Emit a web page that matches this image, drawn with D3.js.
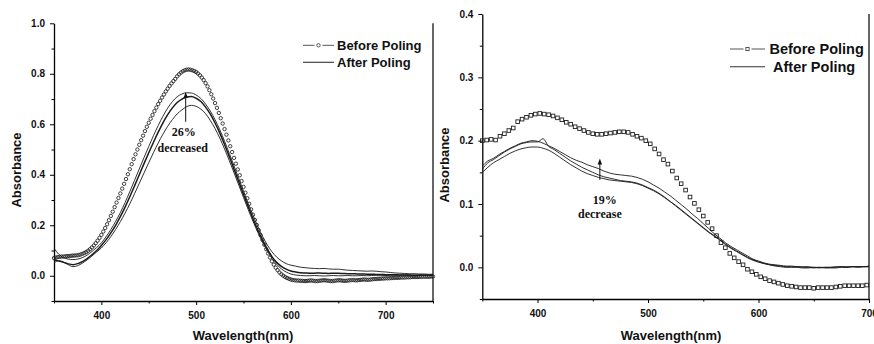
<!DOCTYPE html>
<html>
<head>
<meta charset="utf-8">
<script src="https://cdn.jsdelivr.net/npm/d3@7"></script>
<style>
  body { margin: 0; background: #fff; }
  svg { display: block; }
  .tick text { font-family: "Liberation Sans", Arial, sans-serif; font-weight: bold; font-size: 10px; fill: #111; }
  .axis-title { font-family: "Liberation Sans", Arial, sans-serif; font-weight: bold; font-size: 13px; fill: #111; }
  .note { font-family: "Liberation Serif", "Times New Roman", serif; font-weight: bold; font-size: 12px; fill: #111; }
</style>
</head>
<body>
<svg id="chart" width="874" height="344"></svg>
<script>
// ---- left panel: before poling (circles), 2 nm steps from 350 nm
const leftBeforeStart = 350, leftBeforeStep = 2;
const leftBefore = [
    0.070, 0.072, 0.074, 0.075, 0.076, 0.076, 0.077, 0.078, 0.078, 0.079,
    0.080, 0.080, 0.081, 0.082, 0.084, 0.087, 0.090, 0.094, 0.099, 0.105,
    0.112, 0.120, 0.129, 0.139, 0.150,
    0.162, 0.175, 0.189, 0.204, 0.220, 0.237, 0.254, 0.272, 0.290, 0.308,
    0.326, 0.345, 0.364, 0.383, 0.402, 0.422, 0.442, 0.462, 0.481, 0.500,
    0.519, 0.537, 0.555, 0.573, 0.590,
    0.606, 0.622, 0.637, 0.652, 0.666, 0.680, 0.693, 0.706, 0.718, 0.730,
    0.741, 0.752, 0.762, 0.771, 0.780, 0.790, 0.798, 0.805, 0.810, 0.814,
    0.816, 0.817, 0.816, 0.814, 0.811,
    0.807, 0.801, 0.794, 0.785, 0.775, 0.763, 0.750, 0.735, 0.719, 0.702,
    0.684, 0.665, 0.645, 0.624, 0.603, 0.581, 0.559, 0.536, 0.513, 0.490,
    0.467, 0.444, 0.421, 0.398, 0.375,
    0.352, 0.329, 0.307, 0.285, 0.263, 0.242, 0.221, 0.201, 0.181, 0.161,
    0.142, 0.123, 0.105, 0.088, 0.072, 0.057, 0.044, 0.032, 0.022, 0.013,
    0.006, 0.000, -0.005, -0.009, -0.012,
    -0.015, -0.017, -0.018, -0.019, -0.019, -0.020, -0.020, -0.021, -0.021, -0.020,
    -0.019, -0.019, -0.020, -0.021, -0.021, -0.020, -0.019, -0.018, -0.018, -0.019,
    -0.020, -0.021, -0.021, -0.020, -0.019,
    -0.018, -0.018, -0.019, -0.020, -0.020, -0.019, -0.018, -0.017, -0.017, -0.018,
    -0.018, -0.017, -0.016, -0.015, -0.015, -0.016, -0.016, -0.015, -0.014, -0.013,
    -0.013, -0.012, -0.012, -0.011, -0.011,
    -0.010, -0.010, -0.010, -0.009, -0.009, -0.008, -0.008, -0.008, -0.007, -0.007,
    -0.007, -0.006, -0.006, -0.006, -0.005, -0.005, -0.005, -0.005, -0.004, -0.004,
    -0.004, -0.004, -0.004, -0.004, -0.003, -0.003
];

// ---- left panel: after poling (3 scans), 5 nm steps from 350 nm
const leftAfterStart = 350, leftAfterStep = 5;
const leftAfterA = [
    0.110, 0.085, 0.072, 0.066, 0.064, 0.066, 0.072, 0.082, 0.096, 0.112,
    0.130, 0.155, 0.183, 0.215, 0.250, 0.290, 0.333, 0.378, 0.423, 0.468,
    0.512, 0.555, 0.595, 0.632, 0.664, 0.690, 0.709, 0.720, 0.725, 0.724,
    0.716, 0.702, 0.680, 0.652, 0.618, 0.578, 0.533, 0.485, 0.435, 0.385,
    0.335, 0.286, 0.240, 0.196, 0.157, 0.123, 0.095, 0.074, 0.059, 0.048,
    0.042, 0.038, 0.034, 0.032, 0.030, 0.029, 0.028, 0.029, 0.027, 0.026,
    0.026, 0.024, 0.022, 0.021, 0.020, 0.019, 0.018, 0.019, 0.018, 0.016,
    0.015, 0.013, 0.011, 0.010, 0.009, 0.008, 0.008, 0.007, 0.007, 0.006, 0.006
];
const leftAfterB = [
    0.062, 0.058, 0.053, 0.047, 0.044, 0.048, 0.056, 0.068, 0.083, 0.100,
    0.120, 0.143, 0.170, 0.200, 0.234, 0.272, 0.313, 0.356, 0.400, 0.444,
    0.487, 0.529, 0.569, 0.606, 0.638, 0.665, 0.686, 0.700, 0.708, 0.710,
    0.703, 0.690, 0.668, 0.640, 0.605, 0.565, 0.520, 0.472, 0.422, 0.372,
    0.322, 0.273, 0.226, 0.182, 0.142, 0.106, 0.076, 0.053, 0.037, 0.026,
    0.019, 0.015, 0.012, 0.011, 0.010, 0.010, 0.011, 0.010, 0.009, 0.010,
    0.010, 0.009, 0.008, 0.008, 0.007, 0.007, 0.006, 0.006, 0.005, 0.005,
    0.004, 0.004, 0.004, 0.003, 0.003, 0.003, 0.002, 0.002, 0.002, 0.002, 0.002
];
const leftAfterC = [
    0.050, 0.060, 0.055, 0.044, 0.036, 0.040, 0.050, 0.063, 0.078, 0.094,
    0.110, 0.131, 0.155, 0.183, 0.214, 0.248, 0.285, 0.325, 0.366, 0.407,
    0.448, 0.488, 0.526, 0.561, 0.592, 0.619, 0.641, 0.657, 0.670, 0.675,
    0.671, 0.660, 0.642, 0.615, 0.583, 0.545, 0.502, 0.456, 0.408, 0.359,
    0.310, 0.262, 0.216, 0.173, 0.134, 0.099, 0.069, 0.045, 0.027, 0.015,
    0.007, 0.003, 0.001, 0.000, 0.000, 0.001, 0.000, -0.001, 0.000, 0.001,
    0.000, 0.000, 0.001, 0.000, 0.000, 0.001, 0.000, 0.001, 0.002, 0.002,
    0.001, 0.002, 0.002, 0.002, 0.003, 0.003, 0.002, 0.003, 0.003, 0.002, 0.002
];

// ---- right panel: before poling (squares), 4 nm steps from 350 nm
const rightBeforeStart = 350, rightBeforeStep = 4;
const rightBefore = [
    0.200, 0.201, 0.202, 0.201, 0.207, 0.211, 0.216, 0.220, 0.230, 0.234,
    0.237, 0.240, 0.242, 0.243, 0.242, 0.241, 0.239, 0.236, 0.233, 0.229,
    0.226, 0.222, 0.219, 0.216, 0.213, 0.211, 0.210, 0.210, 0.211, 0.212,
    0.213, 0.214, 0.214, 0.213, 0.210, 0.207, 0.204, 0.200, 0.195, 0.187,
    0.179, 0.170, 0.163, 0.152, 0.141, 0.132, 0.122, 0.111, 0.101, 0.091,
    0.081, 0.071, 0.061, 0.050, 0.039, 0.031, 0.022, 0.015, 0.009, 0.004,
    -0.003, -0.007, -0.011, -0.015, -0.018, -0.021, -0.023, -0.025, -0.027, -0.029,
    -0.030, -0.031, -0.032, -0.032, -0.032, -0.033, -0.032, -0.032, -0.032, -0.032,
    -0.031, -0.030, -0.029, -0.029, -0.029, -0.029, -0.029, -0.028
];

// ---- right panel: after poling (3 scans), 5 nm steps from 350 nm
const rightAfterStart = 350, rightAfterStep = 5;
const rightAfterA = [
    0.160, 0.168, 0.172, 0.178, 0.183, 0.188, 0.192, 0.196, 0.198, 0.200,
    0.199, 0.196, 0.192, 0.188, 0.183, 0.178, 0.173, 0.169, 0.166, 0.162,
    0.159, 0.156, 0.152, 0.149, 0.147, 0.146, 0.145, 0.144, 0.142, 0.139,
    0.135, 0.130, 0.125, 0.119, 0.113, 0.106, 0.099, 0.092, 0.084, 0.077,
    0.069, 0.061, 0.053, 0.046, 0.039, 0.033, 0.028, 0.023, 0.018, 0.013,
    0.010, 0.007, 0.005, 0.004, 0.003, 0.002, 0.002, 0.001, 0.001, 0.001,
    0.000, 0.000, 0.000, 0.000, 0.000, 0.001, 0.001, 0.001, 0.001, 0.001, 0.002
];
const rightAfterB = [
    0.155, 0.165, 0.170, 0.176, 0.182, 0.187, 0.191, 0.195, 0.197, 0.198,
    0.198, 0.203, 0.191, 0.186, 0.180, 0.174, 0.168, 0.163, 0.158, 0.154,
    0.150, 0.146, 0.143, 0.141, 0.139, 0.137, 0.136, 0.135, 0.133, 0.130,
    0.126, 0.122, 0.117, 0.111, 0.104, 0.098, 0.091, 0.084, 0.077, 0.070,
    0.063, 0.056, 0.050, 0.044, 0.037, 0.031, 0.026, 0.021, 0.016, 0.012,
    0.009, 0.006, 0.004, 0.003, 0.002, 0.001, 0.001, 0.001, 0.000, 0.000,
    -0.001, 0.000, -0.001, -0.001, -0.001, 0.000, 0.000, 0.001, 0.001, 0.001, 0.001
];
const rightAfterC = [
    0.150, 0.158, 0.165, 0.170, 0.175, 0.180, 0.184, 0.187, 0.189, 0.190,
    0.190, 0.188, 0.185, 0.180, 0.174, 0.168, 0.162, 0.157, 0.152, 0.148,
    0.145, 0.142, 0.140, 0.138, 0.137, 0.136, 0.135, 0.134, 0.132, 0.129,
    0.125, 0.121, 0.116, 0.110, 0.104, 0.097, 0.090, 0.083, 0.076, 0.069,
    0.062, 0.055, 0.049, 0.043, 0.036, 0.030, 0.025, 0.020, 0.015, 0.011,
    0.008, 0.006, 0.004, 0.002, 0.001, 0.000, 0.000, 0.000, -0.001, -0.001,
    0.000, -0.001, 0.000, 0.000, 0.001, 0.001, 0.000, 0.001, 0.000, 0.001, 0.001
];

// ---- axes and annotations
const leftXTicks = [400, 500, 600, 700];
const leftXMinor = [350, 450, 550, 650, 750];
const leftYTicks = [0.0, 0.2, 0.4, 0.6, 0.8, 1.0];
const leftYMinor = [-0.1, 0.1, 0.3, 0.5, 0.7, 0.9];
const rightXTicks = [400, 500, 600, 700];
const rightXMinor = [350, 450, 550, 650];
const rightYTicks = [0.0, 0.1, 0.2, 0.3, 0.4];
const rightYMinor = [-0.05, 0.05, 0.15, 0.25, 0.35];
const legendLabels = ['Before Poling', 'After Poling'];
const leftNote = { wl: 489, from: 0.61, to: 0.728, lines: ['26%', 'decreased'] };
const rightNote = { wl: 456.4, from: 0.138, to: 0.172, lines: ['19%', 'decrease'] };

const toPoints = (values, start, step) => values.map((v, i) => ({ wl: start + i * step, v }));

const svg = d3.select('#chart');

function drawPanel(p) {
    const x = d3.scaleLinear().domain(p.xDomain).range([p.left, p.right]);
    const y = d3.scaleLinear().domain(p.yDomain).range([p.bottom, p.top]);
    const g = svg.append('g');

    // minor ticks
    g.append('g')
        .attr('transform', `translate(0,${p.bottom})`)
        .call(d3.axisBottom(x).tickValues(p.xMinor).tickSize(2.5).tickFormat(''))
        .call(a => a.select('.domain').remove());
    g.append('g')
        .attr('transform', `translate(${p.left},0)`)
        .call(d3.axisLeft(y).tickValues(p.yMinor).tickSize(2.5).tickFormat(''))
        .call(a => a.select('.domain').remove());

    // major axes
    g.append('g')
        .attr('transform', `translate(0,${p.bottom})`)
        .call(d3.axisBottom(x).tickValues(p.xTicks).tickSize(4).tickSizeOuter(0).tickPadding(7).tickFormat(d3.format('d')))
        .call(a => a.select('.domain').attr('stroke-width', 1.3));
    g.append('g')
        .attr('transform', `translate(${p.left},0)`)
        .call(d3.axisLeft(y).tickValues(p.yTicks).tickSize(4).tickSizeOuter(0).tickPadding(5).tickFormat(d3.format('.1f')))
        .call(a => a.select('.domain').attr('stroke-width', 1.3));

    g.append('line')
        .attr('x1', p.right).attr('x2', p.right)
        .attr('y1', p.top).attr('y2', p.bottom)
        .attr('stroke', '#000').attr('stroke-width', 1.2);

    // titles
    g.append('text')
        .attr('class', 'axis-title')
        .attr('x', p.xTitle[0]).attr('y', p.xTitle[1])
        .attr('text-anchor', 'middle')
        .text('Wavelength(nm)');
    g.append('text')
        .attr('class', 'axis-title')
        .attr('transform', `translate(${p.yTitle[0]},${p.yTitle[1]}) rotate(-90)`)
        .attr('text-anchor', 'middle')
        .text('Absorbance');

    // after poling lines
    const line = d3.line()
        .x(d => x(d.wl))
        .y(d => y(d.v))
        .curve(d3.curveMonotoneX);
    p.after.forEach((s, i) => {
        g.append('path')
            .datum(s)
            .attr('fill', 'none')
            .attr('stroke', '#1a1a1a')
            .attr('stroke-width', p.afterWidths[i])
            .attr('d', line);
    });

    // before poling markers
    if (p.marker === 'circle') {
        g.append('g').selectAll('circle')
            .data(p.before)
            .join('circle')
            .attr('cx', d => x(d.wl))
            .attr('cy', d => y(d.v))
            .attr('r', 1.7)
            .attr('fill', 'none')
            .attr('stroke', '#1e1e1e')
            .attr('stroke-width', 0.85);
    } else {
        g.append('g').selectAll('rect')
            .data(p.before)
            .join('rect')
            .attr('x', d => x(d.wl) - 1.8)
            .attr('y', d => y(d.v) - 1.8)
            .attr('width', 3.6)
            .attr('height', 3.6)
            .attr('fill', 'none')
            .attr('stroke', '#1e1e1e')
            .attr('stroke-width', 0.9);
    }

    // arrow + note
    const ax = x(p.note.wl);
    const y0 = y(p.note.from), y1 = y(p.note.to);
    g.append('line')
        .attr('x1', ax).attr('x2', ax)
        .attr('y1', y0).attr('y2', y1 + 5)
        .attr('stroke', '#111').attr('stroke-width', 1);
    g.append('path')
        .attr('d', `M${ax},${y1} L${ax - 2.2},${y1 + 6} L${ax + 2.2},${y1 + 6} Z`)
        .attr('fill', '#111');
    p.note.lines.forEach((t, i) => {
        g.append('text')
            .attr('class', 'note')
            .attr('x', ax + p.noteDx[i])
            .attr('y', y0 + p.noteDy[i])
            .attr('text-anchor', 'middle')
            .text(t);
    });

    // legend
    const lg = g.append('g');
    const L = p.legend;
    lg.append('line')
        .attr('x1', L.x0).attr('x2', L.xm - 4)
        .attr('y1', L.y[0]).attr('y2', L.y[0])
        .attr('stroke', '#555').attr('stroke-width', 1);
    lg.append('line')
        .attr('x1', L.xm + 4).attr('x2', L.x1)
        .attr('y1', L.y[0]).attr('y2', L.y[0])
        .attr('stroke', '#555').attr('stroke-width', 1);
    if (p.marker === 'circle') {
        lg.append('circle')
            .attr('cx', L.xm).attr('cy', L.y[0]).attr('r', 1.7)
            .attr('fill', 'none').attr('stroke', '#333').attr('stroke-width', 0.8);
    } else {
        lg.append('rect')
            .attr('x', L.xm - 1.6).attr('y', L.y[0] - 1.6)
            .attr('width', 3.2).attr('height', 3.2)
            .attr('fill', 'none').attr('stroke', '#333').attr('stroke-width', 0.8);
    }
    lg.append('line')
        .attr('x1', L.x0).attr('x2', L.x1)
        .attr('y1', L.y[1]).attr('y2', L.y[1])
        .attr('stroke', '#333').attr('stroke-width', 1.1);
    legendLabels.forEach((t, i) => {
        lg.append('text')
            .attr('x', L.tx[i])
            .attr('y', L.y[i] + L.baseline)
            .style('font-family', '"Liberation Sans", Arial, sans-serif')
            .style('font-weight', 'bold')
            .style('font-size', L.size + 'px')
            .attr('fill', '#111')
            .text(t);
    });
}

drawPanel({
    xDomain: [350, 750], yDomain: [-0.1, 1.0],
    left: 54, right: 433, top: 23.3, bottom: 301,
    xTicks: leftXTicks, xMinor: leftXMinor, yTicks: leftYTicks, yMinor: leftYMinor,
    xTitle: [243, 340], yTitle: [21, 170],
    before: toPoints(leftBefore, leftBeforeStart, leftBeforeStep),
    after: [leftAfterA, leftAfterB, leftAfterC].map(s => toPoints(s, leftAfterStart, leftAfterStep)),
    afterWidths: [0.9, 1.5, 0.9],
    marker: 'circle',
    note: leftNote, noteDx: [-2, -3], noteDy: [14, 30],
    legend: { x0: 303, x1: 334, xm: 318.5, y: [45.3, 62.3], tx: [337, 337], baseline: 4.5, size: 13 }
});

drawPanel({
    xDomain: [350, 700], yDomain: [-0.05, 0.4],
    left: 482.3, right: 869, top: 14, bottom: 299,
    xTicks: rightXTicks, xMinor: rightXMinor, yTicks: rightYTicks, yMinor: rightYMinor,
    xTitle: [671, 340], yTitle: [448.5, 165],
    before: toPoints(rightBefore, rightBeforeStart, rightBeforeStep),
    after: [rightAfterA, rightAfterB, rightAfterC].map(s => toPoints(s, rightAfterStart, rightAfterStep)),
    afterWidths: [0.9, 0.9, 0.9],
    marker: 'rect',
    note: rightNote, noteDx: [5, 0], noteDy: [24, 38],
    legend: { x0: 730, x1: 765, xm: 747.5, y: [49, 66.7], tx: [769.5, 773], baseline: 5.3, size: 14.5 }
});
</script>
</body>
</html>
